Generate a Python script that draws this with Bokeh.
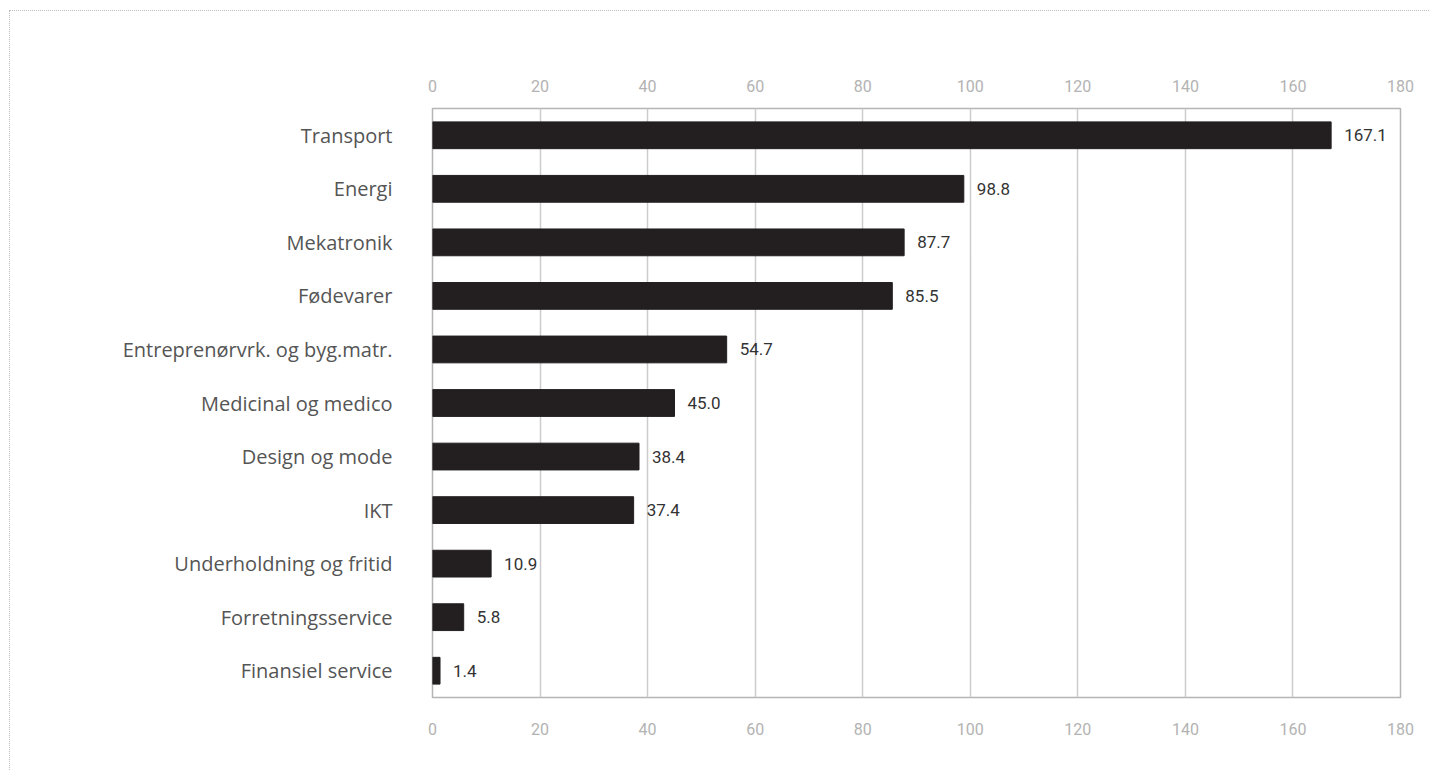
from bokeh.plotting import figure
from bokeh.models import ColumnDataSource, LinearAxis, CategoricalAxis, FixedTicker, Range1d, FactorRange
from bokeh.core.properties import value
from bokeh.embed import file_html
from bokeh.resources import INLINE

categories = ["Transport", "Energi", "Mekatronik", "Fødevarer",
              "Entreprenørvrk. og byg.matr.", "Medicinal og medico",
              "Design og mode", "IKT", "Underholdning og fritid",
              "Forretningsservice", "Finansiel service"]
values = [167.1, 98.8, 87.7, 85.5, 54.7, 45.0, 38.4, 37.4, 10.9, 5.8, 1.4]
labels = ["167.1", "98.8", "87.7", "85.5", "54.7", "45.0", "38.4", "37.4", "10.9", "5.8", "1.4"]
x_ticks = [0, 20, 40, 60, 80, 100, 120, 140, 160, 180]

FONT = "Roboto"
CAT_FONT = "Open Sans"

src = ColumnDataSource(dict(cat=categories, val=values, lab=labels))

p = figure(width=1420, height=760, output_backend="svg", toolbar_location=None,
           y_range=FactorRange(factors=categories[::-1]),
           x_range=Range1d(0, 180), x_axis_location=None, y_axis_location=None,
           min_border_left=422, min_border_right=30, min_border_top=97, min_border_bottom=74)

p.hbar(y="cat", right="val", left=0, height=0.5, source=src, color="#231f20")
p.text(x="val", y="cat", text="lab", source=src, x_offset=13,
       text_baseline="middle", text_align="left", text_font=value(FONT),
       text_font_size="17px", text_color="#333333")

top = LinearAxis()
bottom = LinearAxis()
p.add_layout(top, "above")
p.add_layout(bottom, "below")

for ax in (bottom, top):
    ax.ticker = FixedTicker(ticks=x_ticks)
    ax.axis_line_color = None
    ax.major_tick_line_color = None
    ax.minor_tick_line_color = None
    ax.major_label_text_font = FONT
    ax.major_label_text_font_size = "16px"
    ax.major_label_text_color = "#b3b3b3"
bottom.major_label_standoff = 19
top.major_label_standoff = 11

ya = CategoricalAxis()
p.add_layout(ya, "left")
ya.axis_line_color = None
ya.major_tick_line_color = None
ya.minor_tick_line_color = None
ya.major_label_text_font = CAT_FONT
ya.major_label_text_font_size = "20px"
ya.major_label_text_color = "#555555"
ya.major_label_standoff = 34

p.xgrid.ticker = FixedTicker(ticks=x_ticks)
p.xgrid.grid_line_color = "#cccccc"
p.xgrid.grid_line_width = 1.5
p.ygrid.grid_line_color = None
p.outline_line_color = "#b5b5b5"
p.outline_line_width = 1.5
p.background_fill_color = "white"
p.border_fill_color = "white"
p.styles = {"border-top": "1px dotted #bdbdbd", "border-left": "1px dotted #bdbdbd",
            "margin-left": "9px", "margin-top": "10px"}

open("out.html", "w").write(file_html(p, INLINE))
